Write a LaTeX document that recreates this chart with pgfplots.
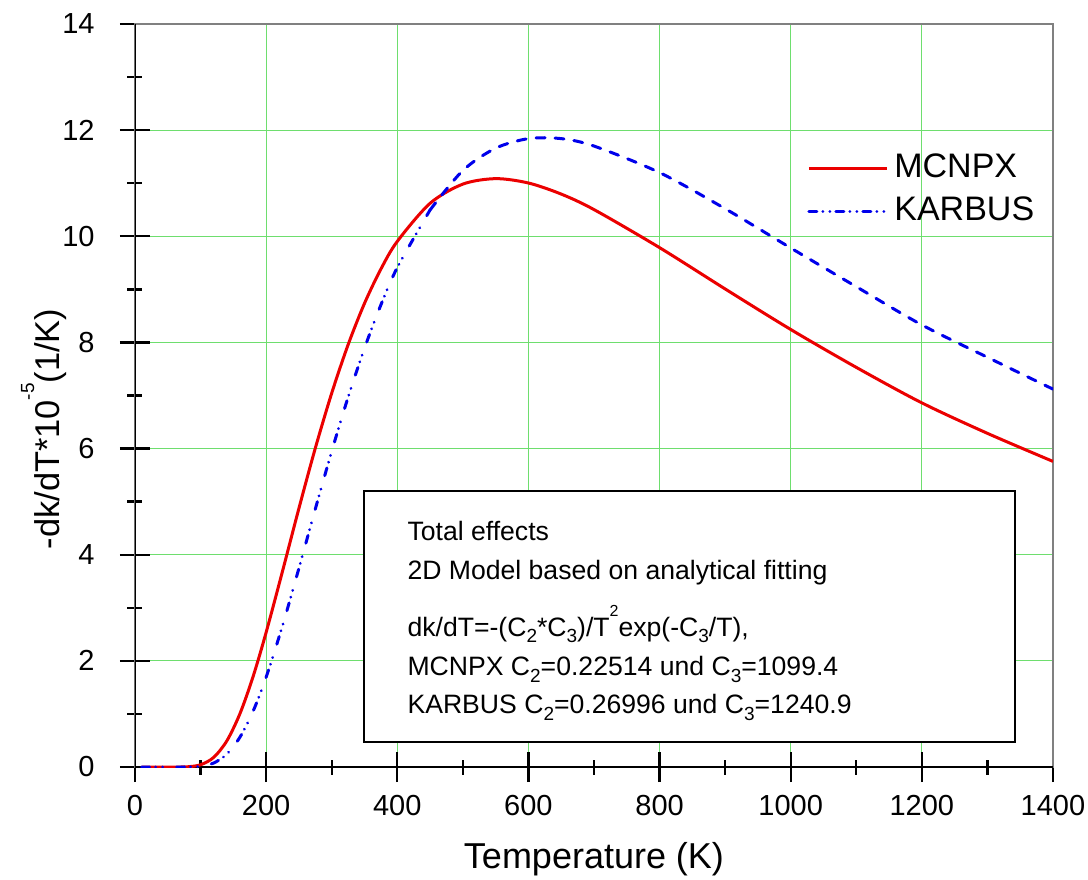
\documentclass[border=0pt]{standalone}
\usepackage{fontspec}
\setmainfont{Liberation Sans}
\usepackage{pgfplots}
\pgfplotsset{compat=1.18}
\definecolor{gridgreen}{RGB}{110,222,110}
\definecolor{myred}{RGB}{235,0,0}
\definecolor{myblue}{RGB}{0,0,235}
\newcommand{\sub}[1]{\raisebox{-3.4pt}{\fontsize{9.5}{10}\selectfont #1}}
\newcommand{\sups}[1]{\raisebox{10pt}{\fontsize{8}{8}\selectfont #1}}
\begin{document}
\begin{tikzpicture}
\begin{axis}[
  scale only axis, width=459pt, height=371.5pt,
  xmin=0, xmax=1400, ymin=0, ymax=14,
  xtick={0,200,...,1400}, ytick={0,2,...,14},
  minor x tick num=1, minor y tick num=1,
  tick pos=left, tick align=center,
  major tick length=15pt, minor tick length=7.5pt,
  tick style={black, line width=1.2pt},
  minor tick style={black, line width=1.2pt},
  grid=major, major grid style={gridgreen, line width=0.6pt},
  axis line style={draw=gray, line width=0.6pt},
  /pgf/number format/assume math mode=true,
  /pgf/number format/1000 sep={},
  ticklabel style={font=\fontsize{14.5}{15}\selectfont},
  xticklabel style={anchor=north, inner sep=0pt, yshift=-6.5pt},
  yticklabel style={anchor=east, inner sep=0pt, xshift=-12.5pt},
  xlabel={Temperature (K)},
  xlabel style={at={(axis description cs:0.5,-0.136)}, anchor=base, font=\fontsize{18}{18}\selectfont},
  ylabel={-dk/dT*10\raisebox{0.75em}{\fontsize{9.5}{10}\selectfont -5}(1/K)},
  ylabel style={at={(axis description cs:-0.0817,0.455)}, anchor=base, font=\fontsize{17.2}{18}\selectfont},
  legend style={at={(axis description cs:0.732,0.835)}, anchor=north west, draw=none, fill=none,
    inner sep=0pt, font=\fontsize{17}{17}\selectfont, row sep=0pt,
    nodes={inner ysep=2.75pt, inner xsep=3pt, text height=12.5pt, text depth=3.5pt}},
  legend cell align=left,
  legend image code/.code={\draw[#1] (0pt,0pt) -- (39pt,0pt);},
]
\draw[black, line width=1.5pt] (rel axis cs:0,1) -- (rel axis cs:0,0) -- (rel axis cs:1,0);
\addlegendimage{myred, line width=1.5pt}
\addlegendentry{MCNPX}
\addlegendimage{myblue, line width=1.5pt, line cap=round, dash pattern=on 4pt off 3pt on 0.01pt off 3.5pt on 0.01pt off 3pt}
\addlegendentry{KARBUS}
% MCNPX
\addplot[myred, line width=1.5pt, smooth, forget plot] coordinates {
(10,0) (40,0) (60,0) (80,0.004) (100,0.042) (120,0.181) (140,0.491) (160,1.003)
(180,1.700) (200,2.537) (225,3.691) (250,4.874) (275,6.008) (300,7.044) (325,7.957)
(350,8.736) (375,9.382) (400,9.904) (450,10.621) (500,10.983) (550,11.086) (600,11.004)
(650,10.795) (700,10.503) (800,9.786) (900,9.008) (1000,8.244) (1100,7.530)
(1200,6.861) (1300,6.287) (1400,5.758)};
% KARBUS lower part
\addplot[myblue, line width=1.5pt, smooth, line cap=round, forget plot,
  dash pattern=on 4pt off 3pt on 0.01pt off 3.5pt on 0.01pt off 7pt] coordinates {
(10,0) (40,0) (60,0) (80,0.001) (100,0.014) (120,0.075) (140,0.242) (160,0.561)
(180,1.048) (200,1.692) (225,2.664) (250,3.745) (275,4.861) (300,5.948) (325,6.968)
(350,7.891) (375,8.707) (400,9.411) (450,10.496)};
% KARBUS upper part
\addplot[myblue, line width=1.5pt, smooth, line cap=round, forget plot,
  dash pattern=on 4.5pt off 5pt] coordinates {
(450,10.496) (500,11.24) (550,11.66) (600,11.84) (650,11.84) (700,11.70)
(800,11.20) (900,10.52) (1000,9.78) (1100,9.05) (1200,8.33) (1300,7.72)
(1400,7.12)};
\draw[black, line width=1pt, fill=white] (axis cs:349,0.47) rectangle (axis cs:1342,5.2);
\begin{scope}[every node/.style={anchor=base west, inner sep=0pt, font=\fontsize{13.3}{16}\selectfont}]
\node at (axis cs:415,4.277) {Total effects};
\node at (axis cs:415,3.524) {2D Model based on analytical fitting};
\node at (axis cs:415,2.468) {dk/dT=-(C\sub{2}*C\sub{3})/T\sups{2}exp(-C\sub{3}/T),};
\node at (axis cs:415,1.720) {MCNPX C\sub{2}=0.22514 und C\sub{3}=1099.4};
\node at (axis cs:415,1.012) {KARBUS C\sub{2}=0.26996 und C\sub{3}=1240.9};
\end{scope}
\end{axis}
\pgfresetboundingbox
\path (-67.5pt,-56pt) rectangle (476.5pt,383.5pt);
\end{tikzpicture}
\end{document}
